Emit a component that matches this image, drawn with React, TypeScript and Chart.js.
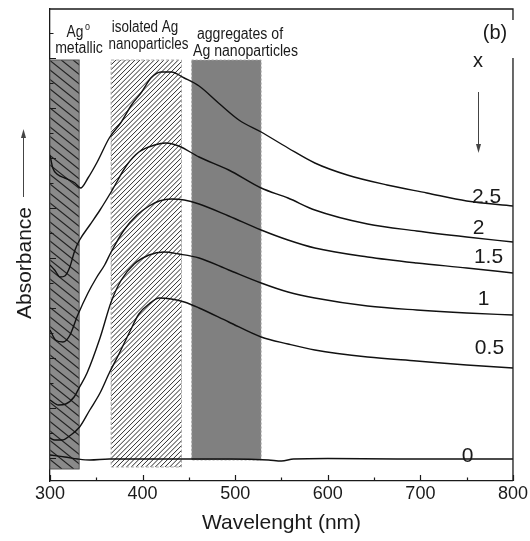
import React, { useEffect, useRef } from 'react';
import { Chart, registerables } from 'chart.js';

Chart.register(...registerables);

const FONT = '"Liberation Sans", Arial, Helvetica, sans-serif';

// ---- data (wavelength in nm, absorbance in arbitrary units) ----
const wl00 = [300, 316, 330, 343, 364, 429, 496, 536, 550, 563, 600, 675, 800];
const abs00 = [0.012, 0.004, -0.004, -0.008, -0.004, -0.004, -0.004, -0.008, -0.012, -0.004, -0.002, -0.004, -0.004];

const wl05 = [300, 305, 313, 321, 332, 343, 354, 364, 375, 386, 396, 407, 418, 431, 445, 461, 493, 528, 557, 586, 643, 696, 750, 800];
const abs05 = [0.080, 0.072, 0.072, 0.088, 0.124, 0.192, 0.260, 0.340, 0.420, 0.504, 0.576, 0.616, 0.640, 0.636, 0.624, 0.600, 0.544, 0.484, 0.456, 0.432, 0.404, 0.388, 0.372, 0.360];

const wl10 = [300, 309, 317, 326, 332, 340, 354, 366, 377, 391, 407, 423, 439, 461, 493, 528, 557, 586, 643, 696, 750, 800];
const abs10 = [0.232, 0.212, 0.216, 0.244, 0.284, 0.340, 0.480, 0.624, 0.712, 0.776, 0.812, 0.824, 0.816, 0.800, 0.752, 0.700, 0.664, 0.640, 0.608, 0.592, 0.580, 0.572];

const wl15 = [300, 306, 314, 321, 330, 341, 350, 359, 366, 380, 394, 407, 418, 431, 445, 461, 493, 528, 557, 586, 643, 696, 750, 800];
const abs15 = [0.512, 0.472, 0.464, 0.488, 0.572, 0.660, 0.720, 0.772, 0.824, 0.912, 0.972, 1.008, 1.028, 1.036, 1.032, 1.016, 0.968, 0.912, 0.872, 0.840, 0.804, 0.780, 0.760, 0.740];

const wl20 = [300, 305, 311, 316, 321, 327, 332, 343, 354, 366, 383, 396, 413, 425, 439, 461, 493, 528, 557, 586, 643, 696, 750, 800];
const abs20 = [0.772, 0.752, 0.724, 0.728, 0.760, 0.832, 0.872, 0.932, 0.992, 1.064, 1.172, 1.224, 1.252, 1.260, 1.248, 1.204, 1.152, 1.080, 1.040, 0.992, 0.936, 0.908, 0.884, 0.864];

const wl25 = [300, 303, 309, 316, 327, 333, 341, 351, 364, 377, 388, 399, 409, 420, 431, 445, 461, 482, 504, 528, 557, 586, 621, 664, 707, 750, 800];
const abs25 = [1.212, 1.160, 1.132, 1.120, 1.100, 1.080, 1.120, 1.184, 1.280, 1.344, 1.412, 1.464, 1.520, 1.544, 1.544, 1.520, 1.488, 1.420, 1.352, 1.304, 1.240, 1.180, 1.132, 1.092, 1.060, 1.028, 1.008];

const seriesNames = ['0', '0.5', '1', '1.5', '2', '2.5'];
const seriesWl = [wl00, wl05, wl10, wl15, wl20, wl25];
const seriesAbs = [abs00, abs05, abs10, abs15, abs20, abs25];

// spectral regions (nm)
const regionStart = [300, 366, 453];
const regionEnd = [331.5, 442, 528];
const regionTopAbs = [1.592, 1.592, 1.592];
const regionBottomAbs = [-0.044, -0.036, -0.008];

const xTicks = [300, 400, 500, 600, 700, 800];
const Y_MIN = -0.092;
const Y_MAX = 1.796;

// annotation anchors for the x labels (data units)
const seriesLabelWl = [751, 774.6, 768.2, 773.6, 762.9, 771.4];
const seriesLabelAbs = [0.008, 0.44, 0.636, 0.804, 0.92, 1.044];

function drawText(
  ctx: CanvasRenderingContext2D,
  s: string,
  x: number,
  y: number,
  size: number,
  align: CanvasTextAlign = 'center',
  baseline: CanvasTextBaseline = 'alphabetic',
  sx = 1,
  color = '#1a1a1a'
) {
  ctx.save();
  ctx.translate(x, y);
  ctx.scale(sx, 1);
  ctx.font = `${size}px ${FONT}`;
  ctx.textAlign = align;
  ctx.textBaseline = baseline;
  ctx.fillStyle = color;
  ctx.fillText(s, 0, 0);
  ctx.restore();
}

const decorPlugin = {
  id: 'decor',
  beforeDatasetsDraw(chart: any) {
    const { ctx, scales } = chart;
    const xs = scales.x;
    const ys = scales.y;
    const rects = regionStart.map((s, i) => {
      const x0 = xs.getPixelForValue(s);
      const x1 = xs.getPixelForValue(regionEnd[i]);
      const y0 = ys.getPixelForValue(regionTopAbs[i]);
      const y1 = ys.getPixelForValue(regionBottomAbs[i]);
      return { x0, x1, y0, y1, w: x1 - x0, h: y1 - y0 };
    });

    // Ag0 metallic: dark grey with "\" hatching
    {
      const r = rects[0];
      ctx.save();
      ctx.fillStyle = '#8a8a8a';
      ctx.fillRect(r.x0, r.y0, r.w, r.h);
      ctx.beginPath();
      ctx.rect(r.x0, r.y0, r.w, r.h);
      ctx.clip();
      ctx.strokeStyle = '#222';
      ctx.lineWidth = 1.1;
      const s = 0.8;
      const step = 9.5 / s;
      ctx.beginPath();
      for (let c = r.x0 - r.h / s; c < r.x1 + step; c += step) {
        ctx.moveTo(c, r.y0);
        ctx.lineTo(c + r.h / s, r.y1);
      }
      ctx.stroke();
      ctx.restore();
      ctx.save();
      ctx.strokeStyle = '#555';
      ctx.lineWidth = 1;
      ctx.strokeRect(r.x0, r.y0, r.w, r.h);
      ctx.restore();
    }

    // isolated Ag NPs: white with "/" hatching, dashed border
    {
      const r = rects[1];
      ctx.save();
      ctx.fillStyle = '#ffffff';
      ctx.fillRect(r.x0, r.y0, r.w, r.h);
      ctx.beginPath();
      ctx.rect(r.x0, r.y0, r.w, r.h);
      ctx.clip();
      ctx.strokeStyle = '#2a2a2a';
      ctx.lineWidth = 1;
      const step = 4.8;
      ctx.beginPath();
      for (let c = r.x0 - r.h; c < r.x1 + step; c += step) {
        ctx.moveTo(c, r.y1);
        ctx.lineTo(c + r.h, r.y0);
      }
      ctx.stroke();
      ctx.restore();
      ctx.save();
      ctx.strokeStyle = '#aaaaaa';
      ctx.setLineDash([3, 2]);
      ctx.lineWidth = 1;
      ctx.strokeRect(r.x0, r.y0, r.w, r.h);
      ctx.restore();
    }

    // aggregates: solid grey, dotted border
    {
      const r = rects[2];
      ctx.save();
      ctx.fillStyle = '#808080';
      ctx.fillRect(r.x0, r.y0, r.w, r.h);
      ctx.strokeStyle = '#a8a8a8';
      ctx.setLineDash([2, 2]);
      ctx.lineWidth = 1;
      ctx.strokeRect(r.x0, r.y0, r.w, r.h);
      ctx.restore();
    }
  },
  afterDraw(chart: any) {
    const { ctx, scales, chartArea } = chart;
    const xs = scales.x;
    const ys = scales.y;
    const { left, right, top, bottom } = chartArea;
    ctx.save();
    ctx.strokeStyle = '#1a1a1a';
    ctx.lineWidth = 1.3;
    ctx.beginPath();
    ctx.moveTo(left, top);
    ctx.lineTo(right, top);
    ctx.lineTo(right, bottom);
    ctx.stroke();

    // inward ticks on x axis
    ctx.lineWidth = 1.2;
    ctx.beginPath();
    for (let w = 300; w <= 800; w += 50) {
      const px = Math.round(xs.getPixelForValue(w)) + 0.5;
      const len = w % 100 === 0 ? 6 : 3.5;
      ctx.moveTo(px, bottom);
      ctx.lineTo(px, bottom - len);
    }
    // inward ticks on y axis
    for (let i = 0; i <= 17; i++) {
      const py = Math.round(ys.getPixelForValue(i * 0.1)) + 0.5;
      const len = i % 2 === 0 ? 6 : 3.5;
      ctx.moveTo(left, py);
      ctx.lineTo(left + len, py);
    }
    ctx.stroke();

    // white box behind (b)
    ctx.fillStyle = '#ffffff';
    ctx.fillRect(476, 20, 54, 38);
    ctx.restore();

    // region labels
    drawText(ctx, 'Ag', 66.5, 37, 16, 'left', 'alphabetic', 0.86);
    drawText(ctx, 'o', 85, 30, 10, 'left', 'alphabetic', 0.9);
    drawText(ctx, 'metallic', 79, 53, 16, 'center', 'alphabetic', 0.88);
    drawText(ctx, 'isolated Ag', 145, 32, 16, 'center', 'alphabetic', 0.84);
    drawText(ctx, 'nanoparticles', 148.5, 48.5, 16, 'center', 'alphabetic', 0.84);
    drawText(ctx, 'aggregates of', 240, 39, 16, 'center', 'alphabetic', 0.88);
    drawText(ctx, 'Ag nanoparticles', 245.5, 56, 16, 'center', 'alphabetic', 0.88);

    // panel label and x arrow
    drawText(ctx, '(b)', 495, 33, 20, 'center', 'middle');
    drawText(ctx, 'x', 478, 61, 20, 'center', 'middle');
    ctx.save();
    ctx.strokeStyle = '#444';
    ctx.fillStyle = '#444';
    ctx.lineWidth = 1;
    ctx.beginPath();
    ctx.moveTo(478.5, 92);
    ctx.lineTo(478.5, 146);
    ctx.stroke();
    ctx.beginPath();
    ctx.moveTo(478.5, 153);
    ctx.lineTo(476, 144);
    ctx.lineTo(481, 144);
    ctx.closePath();
    ctx.fill();
    ctx.restore();

    // series labels
    seriesNames.forEach((n, i) => {
      const px = xs.getPixelForValue(seriesLabelWl[i]);
      const py = ys.getPixelForValue(seriesLabelAbs[i]);
      drawText(ctx, n, px, py, 21, 'center', 'middle');
    });

    // y axis title with arrow
    ctx.save();
    ctx.translate(25.5, 263);
    ctx.rotate(-Math.PI / 2);
    ctx.font = `21px ${FONT}`;
    ctx.textAlign = 'center';
    ctx.textBaseline = 'middle';
    ctx.fillStyle = '#1a1a1a';
    ctx.fillText('Absorbance', 0, 0);
    ctx.restore();
    ctx.save();
    ctx.strokeStyle = '#444';
    ctx.fillStyle = '#444';
    ctx.lineWidth = 1;
    ctx.beginPath();
    ctx.moveTo(23.5, 197);
    ctx.lineTo(23.5, 137);
    ctx.stroke();
    ctx.beginPath();
    ctx.moveTo(23.5, 129);
    ctx.lineTo(21, 138);
    ctx.lineTo(26, 138);
    ctx.closePath();
    ctx.fill();
    ctx.restore();
  },
};

export default function App() {
  const ref = useRef<HTMLCanvasElement>(null);

  useEffect(() => {
    if (!ref.current) return;
    const datasets = seriesNames.map((name, i) => ({
      label: name,
      data: seriesWl[i].map((w, j) => ({ x: w, y: seriesAbs[i][j] })),
      borderColor: '#111111',
      borderWidth: 1.4,
      pointRadius: 0,
      fill: false,
      cubicInterpolationMode: 'monotone' as const,
    }));
    const chart = new Chart(ref.current, {
      type: 'line',
      data: { datasets },
      options: {
        animation: false,
        responsive: false,
        events: [],
        layout: { padding: { top: 9, right: 14, left: 0, bottom: 0 }, autoPadding: false } as any,
        plugins: { legend: { display: false }, tooltip: { enabled: false } },
        scales: {
          x: {
            type: 'linear',
            min: 300,
            max: 800,
            afterFit: (s: any) => {
              s.height = 60;
            },
            afterBuildTicks: (s: any) => {
              s.ticks = xTicks.map((v) => ({ value: v }));
            },
            ticks: {
              color: '#1a1a1a',
              font: { family: FONT, size: 18 },
              padding: 2,
              maxRotation: 0,
              autoSkip: false,
            },
            grid: { display: false, drawTicks: false },
            border: { display: true, color: '#1a1a1a', width: 1.3 },
            title: {
              display: true,
              text: 'Wavelenght (nm)',
              color: '#1a1a1a',
              font: { family: FONT, size: 21 },
              padding: { top: 0, bottom: 5 },
            },
          },
          y: {
            type: 'linear',
            min: Y_MIN,
            max: Y_MAX,
            afterFit: (s: any) => {
              s.width = 50;
            },
            ticks: { display: false },
            grid: { display: false, drawTicks: false },
            border: { display: true, color: '#1a1a1a', width: 1.3 },
          },
        },
      },
      plugins: [decorPlugin],
    });
    return () => chart.destroy();
  }, []);

  return (
    <div style={{ position: 'absolute', left: 0, top: 0, width: 530, height: 541, background: '#fff' }}>
      <canvas ref={ref} width={530} height={541} style={{ display: 'block' }} />
    </div>
  );
}
